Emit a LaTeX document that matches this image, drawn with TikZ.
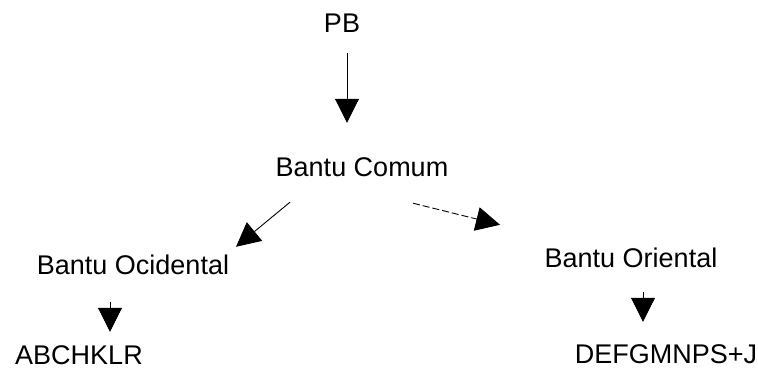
\documentclass[tikz,border=0pt]{standalone}
\usepackage{fontspec}
\setmainfont{Liberation Sans}
\usetikzlibrary{arrows.meta,calc}
\begin{document}
\begin{tikzpicture}[x=1pt,y=-1pt,
  lbl/.style={anchor=base,inner sep=0pt,text height=19.5pt,text depth=0pt,font=\fontsize{27}{30}\selectfont},
  arr/.style={line width=0.9pt,-{Triangle[length=24pt,width=24pt]}},
  darr/.style={arr,dash pattern=on 7pt off 3pt}]
\useasboundingbox (0,0) rectangle (758,371);
\node[lbl] (pb) at (342,33) {PB};
\node[lbl] (comum) at (362,177) {Bantu Comum};
\node[lbl] (ocid) at (133,275) {Bantu Ocidental};
\node[lbl] (abch) at (79,365) {ABCHKLR};
\node[lbl] (orient) at (631,268) {Bantu Oriental};
\node[lbl] (defg) at (666,363) {DEFGMNPS+J};
\draw[arr] ($(pb.south)+(5,20)$) -- ($(comum.north)+(-15,-34.5)$);
\draw[arr] ($(comum.south)+(-72,25)$) -- ($(ocid.north)+(103,-8.5)$);
\draw[darr] ($(comum.south)+(51,26)$) -- ($(orient.north)+(-131,-23.5)$);
\draw[arr] ($(ocid.south)+(-23,27)$) -- ($(abch.north)+(31,-13.5)$);
\draw[arr] ($(orient.south)+(12,24)$) -- ($(defg.north)+(-23,-21.5)$);
\end{tikzpicture}
\end{document}
